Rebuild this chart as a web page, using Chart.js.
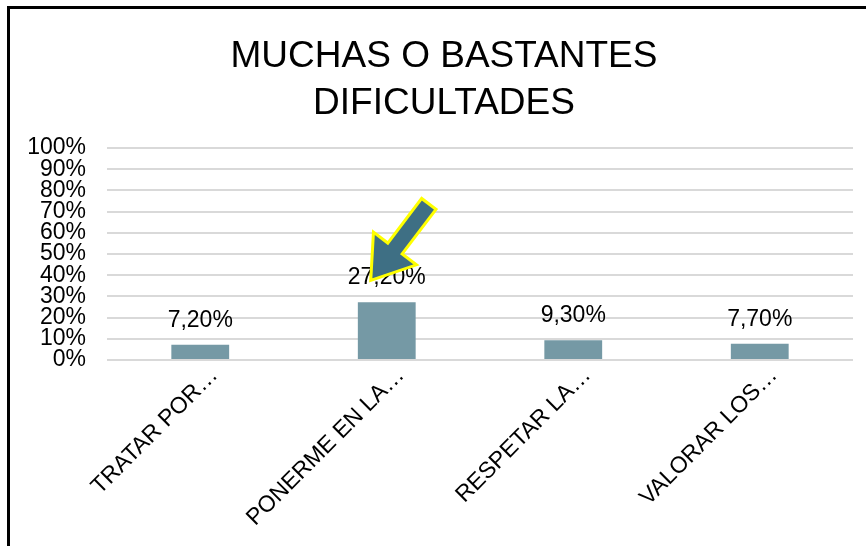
<!DOCTYPE html>
<html>
<head>
<meta charset="utf-8">
<script src="https://cdn.jsdelivr.net/npm/chart.js@4.4.1/dist/chart.umd.min.js"></script>
<style>
  body { margin: 0; background: #fff; }
  #caja { position: relative; width: 867px; height: 546px; }
  #marco { position: absolute; left: 7px; top: 6px; right: 1px; bottom: -5px;
           border-top: 3px solid #000; border-left: 3px solid #000; pointer-events: none; }
</style>
</head>
<body>
<div id="caja">
  <canvas id="myChart"></canvas>
  <div id="marco"></div>
</div>
<script>
let titulo = ["MUCHAS O BASTANTES", "DIFICULTADES"];
let categorias = ["TRATAR POR…", "PONERME EN LA…", "RESPETAR LA…", "VALORAR LOS…"];
let valores = [7.2, 27.2, 9.3, 7.7];
let etiquetas = ["7,20%", "27,20%", "9,30%", "7,70%"];
let ticksY = [0, 10, 20, 30, 40, 50, 60, 70, 80, 90, 100];

let fuente = "'Liberation Sans', Arial, sans-serif";

// etiquetas de valor encima de cada barra
const pluginEtiquetas = {
  id: "etiquetas",
  afterDatasetsDraw(chart) {
    const ctx = chart.ctx;
    const meta = chart.getDatasetMeta(0);
    ctx.save();
    ctx.font = "23px " + fuente;
    ctx.fillStyle = "#000";
    ctx.textAlign = "center";
    ctx.textBaseline = "alphabetic";
    meta.data.forEach((bar, i) => {
      ctx.fillText(etiquetas[i], bar.x, bar.y - 18);
    });
    ctx.restore();
  }
};

// mover el titulo un poco a la derecha
const pluginTitulo = {
  id: "moverTitulo",
  afterLayout(chart) {
    const t = chart.titleBlock;
    if (t) {
      t.left += 28;
      t.width = t.right - t.left;
    }
  }
};

// flecha que apunta a la segunda barra
const pluginFlecha = {
  id: "flecha",
  afterDraw(chart) {
    const ctx = chart.ctx;
    const bar = chart.getDatasetMeta(0).data[1];
    const tipX = bar.x - 16;
    const tipY = bar.y - 22;
    const ang = Math.atan2(75, -57);
    const L = 96, cabeza = 40, anchoC = 27, anchoS = 9;
    ctx.save();
    ctx.translate(tipX, tipY);
    ctx.rotate(ang);
    // coordenadas locales: punta en 0, cola en -L
    ctx.beginPath();
    ctx.moveTo(0, 0);
    ctx.lineTo(-cabeza, -anchoC);
    ctx.lineTo(-cabeza, -anchoS);
    ctx.lineTo(-L, -anchoS);
    ctx.lineTo(-L, anchoS);
    ctx.lineTo(-cabeza, anchoS);
    ctx.lineTo(-cabeza, anchoC);
    ctx.closePath();
    ctx.fillStyle = "#3e6f84";
    ctx.fill();
    ctx.lineWidth = 3;
    ctx.strokeStyle = "#ffff00";
    ctx.lineJoin = "miter";
    ctx.stroke();
    ctx.restore();
  }
};

const conf = {
  type: "bar",
  data: {
    labels: categorias,
    datasets: [
      {
        data: valores,
        backgroundColor: "#7599a5",
        barPercentage: 0.62,
        categoryPercentage: 0.5,
      },
    ],
  },
  options: {
    responsive: true,
    maintainAspectRatio: false,
    animation: false,
    layout: { padding: { left: 7, right: 14, top: 27, bottom: 0 } },
    plugins: {
      legend: { display: false },
      tooltip: { enabled: false },
      title: {
        display: true,
        text: titulo,
        color: "#000",
        font: { family: fuente, size: 37, weight: "normal", lineHeight: 1.27 },
        padding: { top: 6, bottom: 21 },
      },
    },
    scales: {
      y: {
        min: 0,
        max: 100,
        afterBuildTicks: (axis) => { axis.ticks = ticksY.map((v) => ({ value: v })); },
        afterFit: (axis) => { axis.width = 100; },
        ticks: {
          color: "#000",
          font: { family: fuente, size: 23, lineHeight: 0.9 },
          padding: 21,
          autoSkip: false,
          callback: (v) => v + "%",
        },
        grid: { color: "#d9d9d9", lineWidth: 2, drawTicks: false },
        border: { display: false },
      },
      x: {
        afterFit: (axis) => { axis.height = 186; },
        ticks: {
          color: "#000",
          font: { family: fuente, size: 23 },
          minRotation: 45,
          maxRotation: 45,
          padding: 2,
          labelOffset: 14,
          autoSkip: false,
        },
        grid: { display: false, drawTicks: false },
        border: { display: false },
      },
    },
  },
  plugins: [pluginEtiquetas, pluginTitulo, pluginFlecha],
};

new Chart(document.querySelector("#myChart"), conf);
</script>
</body>
</html>
